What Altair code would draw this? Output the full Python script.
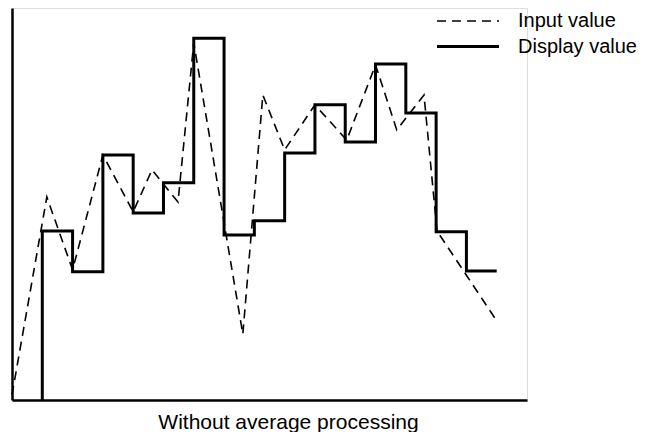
import altair as alt
import pandas as pd

# Input value (dashed) samples: time, value
input_t = [0, 1.15, 2, 3, 4, 4.62, 5.48, 6, 7.62, 8.28, 9, 10, 11.05, 12, 12.7, 13.6, 14.03, 16]
input_v = [1.3, 51.8, 33.2, 62.5, 48.0, 58.7, 50.5, 91.1, 16.8, 77.8, 63.8, 75.3, 66.3, 85.5, 68.9, 77.8, 43.1, 20.2]

# Display value (solid, held) steps: time, value
disp_t = [1, 1, 2, 3, 4, 5, 6, 7, 8, 9, 10, 11, 12, 13, 14, 15, 16]
disp_v = [0, 43.1, 32.7, 62.5, 47.7, 55.4, 92.3, 42.1, 45.7, 63.0, 75.3, 65.8, 85.7, 73.2, 42.9, 32.9, 32.9]

series = ["Input value", "Display value"]
title_text = "Without average processing"

df_in = pd.DataFrame({"t": input_t, "v": input_v, "i": range(len(input_t)), "series": series[0]})
df_disp = pd.DataFrame({"t": disp_t, "v": disp_v, "i": range(len(disp_t)), "series": series[1]})

FONT = "Liberation Sans"

xs = alt.Scale(domain=[0, 17], nice=False, zero=False)
ys = alt.Scale(domain=[0, 100], nice=False, zero=False)

dash = alt.StrokeDash(
    "series:N",
    scale=alt.Scale(domain=series, range=[[9, 6], [1, 0]]),
    legend=alt.Legend(
        title=None,
        orient="none",
        legendX=444,
        legendY=1.5,
        symbolType="M-3,0H3",
        symbolSize=427,
        symbolStrokeColor="black",
        labelFont=FONT,
        labelFontSize=20,
        labelColor="black",
        labelOffset=38,
        rowPadding=3,
        padding=0,
        labelLimit=200,
    ),
)
width_enc = alt.StrokeWidth(
    "series:N",
    scale=alt.Scale(domain=series, range=[1.6, 3]),
    legend=None,
)

x_axis = alt.Axis(
    title=title_text,
    titleFont=FONT,
    titleFontSize=21,
    titleFontWeight="normal",
    titleColor="black",
    titleX=276,
    titleY=28,
    titleAlign="center",
    titleBaseline="alphabetic",
    labels=False,
    ticks=False,
    grid=False,
    domainColor="black",
    domainWidth=2.5,
)
y_axis = alt.Axis(
    title=None,
    labels=False,
    ticks=False,
    grid=False,
    domainColor="black",
    domainWidth=2.5,
)

line_in = alt.Chart(df_in).mark_line(color="black").encode(
    x=alt.X("t:Q", scale=xs, axis=x_axis),
    y=alt.Y("v:Q", scale=ys, axis=y_axis),
    order="i:Q",
    strokeDash=dash,
    strokeWidth=width_enc,
)

line_disp = alt.Chart(df_disp).mark_line(color="black", interpolate="step-after").encode(
    x=alt.X("t:Q", scale=xs),
    y=alt.Y("v:Q", scale=ys),
    order="i:Q",
    strokeDash=dash,
    strokeWidth=width_enc,
)

chart = alt.layer(line_in, line_disp).properties(
    width=515,
    height=392,
    autosize=alt.AutoSizeParams(type="none"),
    padding={"left": 4, "top": 0, "right": 113, "bottom": 32},
).configure_view(stroke=None).configure(background="white")

chart.save("out.html", embed_options={"renderer": "svg", "actions": False})
